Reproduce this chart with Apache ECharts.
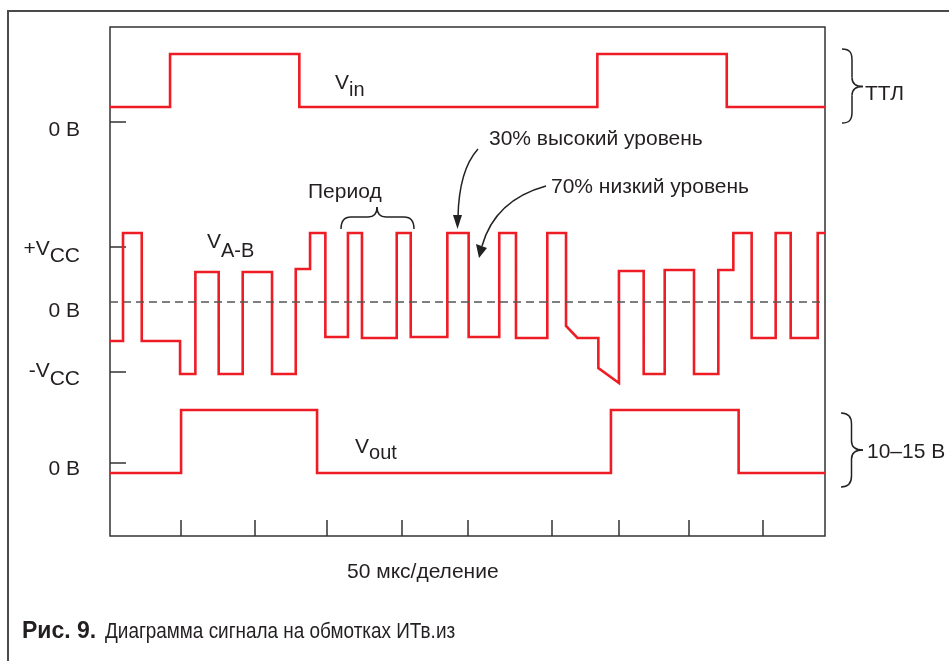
<!DOCTYPE html>
<html><head><meta charset="utf-8">
<script src="https://cdn.jsdelivr.net/npm/echarts@6/dist/echarts.min.js"></script>
<style>html,body{margin:0;padding:0;background:#fff}#c{width:949px;height:661px}</style>
</head><body><div id="c"></div>
<script>
// Time in µs (10 divisions × 50 µs); levels in relative units (0 = dashed zero line of V A-B)
const vinT  = [0, 42.0, 42.0, 132.4, 132.4, 340.8, 340.8, 431.3, 431.3, 500];
const vinV  = [195, 195, 248, 248, 195, 195, 248, 248, 195, 195];

const voutT = [0, 49.7, 49.7, 144.8, 144.8, 350.3, 350.3, 439.6, 439.6, 500];
const voutV = [-171, -171, -108, -108, -171, -171, -108, -108, -171, -171];

const vabT = [0, 9.1, 9.1, 22.2, 22.2, 49.0, 49.0, 59.7, 59.7, 76.0, 76.0, 92.8, 92.8, 113.3, 113.3,
  129.9, 129.9, 139.9, 139.9, 150.6, 150.6, 166.4, 166.4, 176.2, 176.2, 200.5, 200.5, 210.3, 210.3,
  235.9, 235.9, 250.8, 250.8, 272.2, 272.2, 283.9, 283.9, 305.8, 305.8, 318.9, 318.9, 326.9, 341.5,
  341.5, 355.9, 355.9, 373.2, 373.2, 387.9, 387.9, 408.4, 408.4, 425.4, 425.4, 435.9, 435.9, 448.7,
  448.7, 465.5, 465.5, 476.0, 476.0, 494.9, 494.9, 500];
const vabV = [-39, -39, 69, 69, -39, -39, -72, -72, 30, 30, -72, -72, 30, 30, -72,
  -72, 33, 33, 69, 69, -35, -35, 69, 69, -36, -36, 69, 69, -35,
  -35, 69, 69, -35, -35, 69, 69, -36, -36, 69, 69, -24, -36, -36,
  -66, -81, 31, 31, -72, -72, 32, 32, -72, -72, 32, 32, 69, 69,
  -36, -36, 69, 69, -36, -36, 69, 69];

const xTickValues = [49.7, 101.4, 151.7, 204.2, 250.3, 309.1, 355.9, 404.9, 456.6];
const yTickValues = [180, 55, -70, -161];
const yLabelValues = [172, 49.5, -9, -73, -167];
const yLabelTexts  = ['0 В', '{v1|+V}{s1|CC}', '0 В', '{v2|-V}{s2|CC}', '0 В'];

const RED = '#ee1d25', INK = '#231f20', FONT = 'Liberation Sans';
const zip = (t, v) => t.map((x, i) => [x, v[i]]);

const chart = echarts.init(document.getElementById('c'));
const txt = (x, y, text, extra, scaleX) => ({
  type: 'text', x: x, y: y, scaleX: scaleX || 1, silent: true,
  style: Object.assign({ text: text, fill: INK, fontSize: 21, fontFamily: FONT, align: 'left', verticalAlign: 'middle' }, extra || {})
});
const sub = (lh) => ({
  v: { fontSize: 21, fontFamily: FONT, lineHeight: lh, verticalAlign: 'top', fill: INK, color: INK },
  s: { fontSize: 20, fontFamily: FONT, lineHeight: lh, verticalAlign: 'bottom', fill: INK, color: INK }
});
const ST = { fill: 'none', stroke: '#222', lineWidth: 1.5 };
const bz = (x1, y1, x2, y2, c1x, c1y, c2x, c2y) => ({ type: 'bezierCurve', silent: true,
  shape: c2x === undefined ? { x1, y1, x2, y2, cpx1: c1x, cpy1: c1y } : { x1, y1, x2, y2, cpx1: c1x, cpy1: c1y, cpx2: c2x, cpy2: c2y }, style: ST });
const ln = (x1, y1, x2, y2) => ({ type: 'line', silent: true, shape: { x1, y1, x2, y2 }, style: ST });
// vertical curly brace opening left, tip to the right
const vBrace = (xe, xm, xt, yt, ym, yb) => [
  bz(xe, yt, xm, yt + 11, xe + 8, yt, xm, yt + 4), ln(xm, yt + 11, xm, ym - 9),
  bz(xm, ym - 9, xt, ym, xm, ym - 3, xt - 7, ym), bz(xt, ym, xm, ym + 9, xt - 7, ym, xm, ym + 3),
  ln(xm, ym + 9, xm, yb - 11), bz(xm, yb - 11, xe, yb, xm, yb - 4, xe + 8, yb)
];
// horizontal curly brace opening down, tip up
const hBrace = (xl, xm, xr, ye, yf, yt) => [
  bz(xl, ye, xl + 10, yf, xl, ye - 8, xl + 3, yf), ln(xl + 10, yf, xm - 9, yf),
  bz(xm - 9, yf, xm, yt, xm - 3, yf, xm, yf - 4), bz(xm, yt, xm + 9, yf, xm, yf - 4, xm + 3, yf),
  ln(xm + 9, yf, xr - 10, yf), bz(xr - 10, yf, xr, ye, xr - 3, yf, xr, ye - 8)
];

chart.setOption({
  animation: false,
  backgroundColor: '#fff',
  grid: { left: 110, top: 27, right: 124, bottom: 125, show: true, borderColor: '#333', borderWidth: 1.5, backgroundColor: 'transparent' },
  xAxis: {
    type: 'value', min: 0, max: 500,
    axisLine: { show: false, onZero: false },
    axisTick: { show: true, inside: true, length: 16, customValues: xTickValues, lineStyle: { color: '#333', width: 1.5 } },
    axisLabel: { show: false },
    splitLine: { show: false }
  },
  yAxis: {
    type: 'value', min: -234, max: 275,
    axisLine: { show: false, onZero: false },
    axisTick: { show: true, inside: true, length: 16, customValues: yTickValues, lineStyle: { color: '#333', width: 1.5 } },
    axisLabel: {
      customValues: yLabelValues, margin: 30, fontSize: 21, fontFamily: FONT, color: INK,
      formatter: (val) => { const i = yLabelValues.indexOf(val); return i >= 0 ? yLabelTexts[i] : ''; },
      rich: {
        v1: { fontSize: 21, fontFamily: FONT, color: INK, lineHeight: 28, verticalAlign: 'top' },
        s1: { fontSize: 21, fontFamily: FONT, color: INK, lineHeight: 28, verticalAlign: 'bottom' },
        v2: { fontSize: 21, fontFamily: FONT, color: INK, lineHeight: 29, verticalAlign: 'top' },
        s2: { fontSize: 21, fontFamily: FONT, color: INK, lineHeight: 29, verticalAlign: 'bottom' }
      }
    },
    splitLine: { show: false }
  },
  series: [
    { name: 'Vin', type: 'line', data: zip(vinT, vinV), symbol: 'none', clip: false,
      lineStyle: { color: RED, width: 2.6, join: 'miter' } },
    { name: 'VA-B', type: 'line', data: zip(vabT, vabV), symbol: 'none', clip: false,
      lineStyle: { color: RED, width: 2.6, join: 'miter' },
      markLine: { silent: true, symbol: ['none', 'none'], label: { show: false },
        lineStyle: { type: [8, 5], color: '#555', width: 1.5 }, data: [{ yAxis: 0 }] } },
    { name: 'Vout', type: 'line', data: zip(voutT, voutV), symbol: 'none', clip: false,
      lineStyle: { color: RED, width: 2.6, join: 'miter' } }
  ],
  graphic: [].concat(
    [{ type: 'rect', silent: true, shape: { x: 8, y: 11, width: 1200, height: 900 }, style: { fill: 'none', stroke: '#4a4a4a', lineWidth: 2 } },
    txt(335, 86.5, '{v|V}{s|in}', { rich: sub(27) }),
    txt(207, 246.5, '{v|V}{s|A-B}', { rich: sub(30) }),
    txt(355, 450, '{v|V}{s|out}', { rich: sub(27) }),
    txt(489, 139, '30% высокий уровень'),
    txt(551, 187, '70% низкий уровень'),
    txt(308, 192, 'Период'),
    txt(865, 94, 'ТТЛ'),
    txt(867, 452, '10–15 В'),
    txt(347, 572, '50 мкс/деление'),
    txt(22, 632, 'Рис. 9.', { fontWeight: 'bold', fontSize: 23 }),
    txt(105, 632, 'Диаграмма сигнала на обмотках ИТв.из', { fontSize: 22 }, 0.86),
    // arrows
    bz(478, 149, 458, 217, 459, 170),
    { type: 'polygon', silent: true, shape: { points: [[457.5, 229], [453, 215], [462, 215]] }, style: { fill: '#222' } },
    bz(546, 186, 482, 246, 495, 200),
    { type: 'polygon', silent: true, shape: { points: [[479, 258], [476, 244], [487, 248]] }, style: { fill: '#222' } }],
    vBrace(842, 852, 863, 49, 86.5, 123),
    vBrace(841, 851.5, 863, 413, 450, 487),
    hBrace(341, 377, 414, 229, 217, 207)
  )
});
</script>
</body></html>
